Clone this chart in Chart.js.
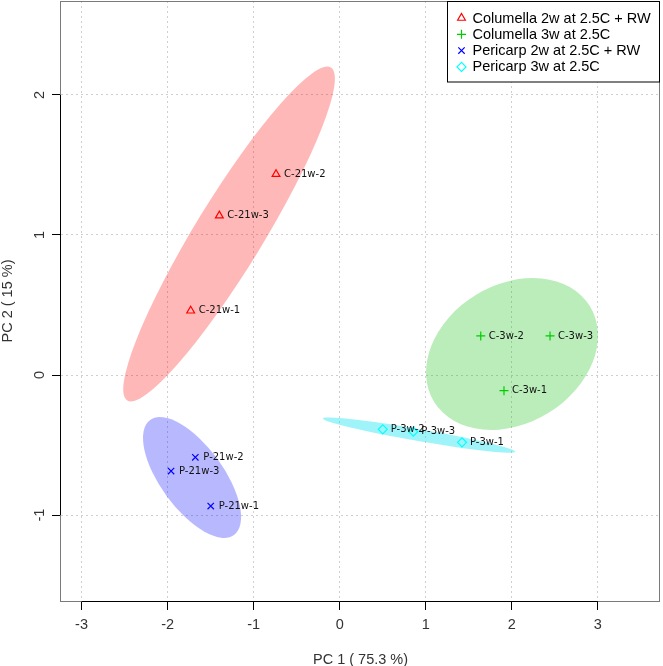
<!DOCTYPE html>
<html>
<head>
<meta charset="utf-8">
<script src="https://cdn.jsdelivr.net/npm/chart.js@4.4.1/dist/chart.umd.min.js"></script>
<style>
  html, body { margin: 0; padding: 0; background: #fff; }
  canvas { display: block; }
</style>
</head>
<body>
<canvas id="pcaChart" width="663" height="666"></canvas>
<script>
// groups (legend order)
var groups = ['Columella 2w at 2.5C + RW', 'Columella 3w at 2.5C', 'Pericarp 2w at 2.5C + RW', 'Pericarp 3w at 2.5C']

// sample names and PCA scores, one list per group
var sampleNames = [
  ['C-21w-1', 'C-21w-3', 'C-21w-2'],
  ['C-3w-2', 'C-3w-3', 'C-3w-1'],
  ['P-21w-2', 'P-21w-3', 'P-21w-1'],
  ['P-3w-2', 'P-3w-3', 'P-3w-1']
]
var pc1Scores = [
  [-1.732, -1.399, -0.740],
  [1.639, 2.444, 1.909],
  [-1.678, -1.960, -1.499],
  [0.500, 0.855, 1.421]
]
var pc2Scores = [
  [0.459, 1.138, 1.434],
  [0.279, 0.279, -0.112],
  [-0.588, -0.686, -0.936],
  [-0.388, -0.405, -0.481]
]

// confidence ellipses: centre and two conjugate semi-axes, in PC units
var ellipseCentreX = [-1.286, 2.002, -1.716, 0.922]
var ellipseCentreY = [1.007, 0.150, -0.732, -0.429]
var ellipseAxisA = [[1.183, 1.189], [0.906, 0.341], [0.487, -0.411], [1.116, -0.119]]
var ellipseAxisB = [[0.337, -0.126], [0.421, -0.422], [-0.296, -0.132], [-0.012, -0.042]]

// axis ranges and titles
var xRange = [-3.239, 3.722]
var yRange = [-1.614, 2.671]
var xTitle = 'PC 1 ( 75.3 %)'
var yTitle = 'PC 2 ( 15 %)'

var pointColors = ['#FF0000', '#00CD00', '#0000FF', '#00FFFF']
var pointStyles = ['triangle', 'cross', 'crossRot', 'rectRot']
var ellipseColors = ['rgba(255,0,0,0.28)', 'rgba(0,190,0,0.27)', 'rgba(0,0,255,0.28)', 'rgba(0,225,240,0.38)']

var rFont = { family: "'Liberation Sans', Arial, sans-serif", size: 14.5, lineHeight: 1 }

var datasets = groups.map(function (g, i) {
  return {
    label: g,
    data: pc1Scores[i].map(function (x, j) { return { x: x, y: pc2Scores[i][j] } }),
    pointStyle: pointStyles[i],
    borderColor: pointColors[i],
    backgroundColor: 'rgba(0,0,0,0)',
    pointRadius: 4.5,
    pointBorderWidth: 1.2,
    showLine: false
  }
})

var ellipsePlugin = {
  id: 'ellipses',
  beforeDatasetsDraw: function (chart) {
    var ctx = chart.ctx
    var xs = chart.scales.x
    var ys = chart.scales.y
    var area = chart.chartArea
    ctx.save()
    ctx.beginPath()
    ctx.rect(area.left, area.top, area.right - area.left, area.bottom - area.top)
    ctx.clip()
    groups.forEach(function (g, i) {
      var cx = xs.getPixelForValue(ellipseCentreX[i])
      var cy = ys.getPixelForValue(ellipseCentreY[i])
      var ax = xs.getPixelForValue(ellipseCentreX[i] + ellipseAxisA[i][0]) - cx
      var ay = ys.getPixelForValue(ellipseCentreY[i] + ellipseAxisA[i][1]) - cy
      var bx = xs.getPixelForValue(ellipseCentreX[i] + ellipseAxisB[i][0]) - cx
      var by = ys.getPixelForValue(ellipseCentreY[i] + ellipseAxisB[i][1]) - cy
      ctx.save()
      ctx.transform(ax, ay, bx, by, cx, cy)
      ctx.beginPath()
      ctx.arc(0, 0, 1, 0, 2 * Math.PI)
      ctx.restore()
      ctx.fillStyle = ellipseColors[i]
      ctx.fill()
    })
    ctx.restore()
  }
}

var labelPlugin = {
  id: 'pointLabels',
  afterDatasetsDraw: function (chart) {
    var ctx = chart.ctx
    ctx.save()
    ctx.font = "10px 'DejaVu Sans'"
    ctx.fillStyle = '#111'
    ctx.textAlign = 'left'
    ctx.textBaseline = 'middle'
    chart.data.datasets.forEach(function (ds, i) {
      chart.getDatasetMeta(i).data.forEach(function (pt, j) {
        ctx.fillText(sampleNames[i][j], pt.x + 8, pt.y)
      })
    })
    ctx.restore()
  }
}

var framePlugin = {
  id: 'frame',
  afterDraw: function (chart) {
    var ctx = chart.ctx
    var a = chart.chartArea
    var xs = chart.scales.x
    var ys = chart.scales.y
    ctx.save()
    // box
    ctx.lineWidth = 1
    ctx.strokeStyle = '#7a7a7a'
    ctx.strokeRect(Math.round(a.left) - 0.5, Math.round(a.top) + 0.5, Math.round(a.right - a.left), Math.round(a.bottom - a.top))
    // axis lines between first and last tick
    ctx.strokeStyle = '#000'
    ctx.beginPath()
    ctx.moveTo(xs.getPixelForValue(-3), Math.round(a.bottom) + 0.5)
    ctx.lineTo(xs.getPixelForValue(3), Math.round(a.bottom) + 0.5)
    ctx.moveTo(Math.round(a.left) - 0.5, ys.getPixelForValue(2))
    ctx.lineTo(Math.round(a.left) - 0.5, ys.getPixelForValue(-1))
    ctx.stroke()

    // legend
    var right = Math.round(a.right) - 0.5
    var left = right - 212
    var top = 1.5
    var h = 80.5
    ctx.fillStyle = '#fff'
    ctx.fillRect(left, top, right - left, h)
    ctx.strokeStyle = '#000'
    ctx.strokeRect(left, top, right - left, h)
    ctx.font = "14.5px 'Liberation Sans', Arial, sans-serif"
    ctx.textAlign = 'left'
    ctx.textBaseline = 'middle'
    groups.forEach(function (g, i) {
      var y = 18 + i * 16.3
      ctx.strokeStyle = pointColors[i]
      ctx.fillStyle = 'rgba(0,0,0,0)'
      ctx.lineWidth = 1.2
      Chart.helpers.drawPoint(ctx, { pointStyle: pointStyles[i], radius: 4.5, rotation: 0, borderWidth: 1.2 }, left + 14, y)
      ctx.fillStyle = '#000'
      ctx.fillText(g, left + 25, y + 0.5)
    })
    ctx.restore()
  }
}

var chart = new Chart(document.getElementById('pcaChart').getContext('2d'), {
  type: 'scatter',
  data: { datasets: datasets },
  options: {
    responsive: false,
    animation: false,
    devicePixelRatio: 1,
    layout: { autoPadding: false, padding: { top: 1, right: 3, left: 0, bottom: 0 } },
    plugins: {
      legend: { display: false },
      tooltip: { enabled: false }
    },
    scales: {
      x: {
        type: 'linear',
        min: xRange[0],
        max: xRange[1],
        afterFit: function (scale) {
          scale.height = 65
          scale.paddingLeft = 0
          scale.paddingRight = 0
        },
        ticks: { stepSize: 1, includeBounds: false, font: rFont, color: '#333', padding: 8, maxRotation: 0 },
        grid: { color: '#cfcfcf', lineWidth: 1, tickLength: 9, tickColor: '#000' },
        border: { display: false, dash: [2, 3] },
        title: { display: true, text: xTitle, font: rFont, color: '#333', padding: { top: 0, bottom: -1 } }
      },
      y: {
        type: 'linear',
        min: yRange[0],
        max: yRange[1],
        afterFit: function (scale) {
          scale.width = 61
          scale.paddingTop = 0
          scale.paddingBottom = 0
        },
        ticks: { stepSize: 1, includeBounds: false, font: rFont, color: '#333', padding: 6, minRotation: 90, maxRotation: 90, crossAlign: 'center' },
        grid: { color: '#cfcfcf', lineWidth: 1, tickLength: 9, tickColor: '#000' },
        border: { display: false, dash: [2, 3] },
        title: { display: true, text: yTitle, font: rFont, color: '#333', padding: { top: 1, bottom: 0 } }
      }
    }
  },
  plugins: [ellipsePlugin, labelPlugin, framePlugin]
})
</script>
</body>
</html>
